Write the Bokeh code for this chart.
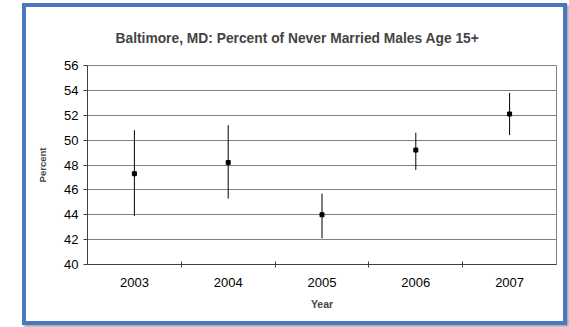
from bokeh.plotting import figure
from bokeh.layouts import column
from bokeh.models import FixedTicker, Range1d, ColumnDataSource
from bokeh.embed import file_html
from bokeh.resources import INLINE

years = [2003, 2004, 2005, 2006, 2007]
percent = [47.3, 48.2, 44.0, 49.2, 52.1]
lower = [43.9, 45.3, 42.1, 47.6, 50.4]
upper = [50.8, 51.2, 45.7, 50.6, 53.8]
y_ticks = [40, 42, 44, 46, 48, 50, 52, 54, 56]

src = ColumnDataSource(dict(x=years, y=percent, lo=lower, hi=upper))

FONT = "Liberation Sans"

p = figure(width=537, height=314, output_backend="svg", toolbar_location=None,
           x_range=Range1d(years[0] - 0.5, years[-1] + 0.5),
           y_range=Range1d(y_ticks[0], y_ticks[-1]),
           min_border_left=61, min_border_right=7, min_border_top=58, min_border_bottom=57,
           title="Baltimore, MD: Percent of Never Married Males Age 15+")

p.background_fill_color = "white"
p.border_fill_color = "white"
p.outline_line_color = "#808080"
p.outline_line_width = 1

p.title.text_font = FONT
p.title.text_font_size = "13.8px"
p.title.text_font_style = "bold"
p.title.align = "left"
p.title.offset = 28
p.title.standoff = 40

# x axis
bounds = [y + 0.5 for y in years[:-1]]
p.xaxis.ticker = FixedTicker(ticks=years, minor_ticks=bounds)
p.xaxis.major_tick_line_color = None
p.xaxis.minor_tick_in = 3
p.xaxis.minor_tick_out = 3
p.xaxis.minor_tick_line_color = "#404040"
p.xaxis.axis_line_color = "#404040"
p.xaxis.major_label_text_font = FONT
p.xaxis.major_label_text_font_size = "13px"
p.xaxis.major_label_text_color = "#000000"
p.xaxis.major_label_standoff = 7
p.xaxis.axis_label = "Year"
p.xaxis.axis_label_text_font = FONT
p.xaxis.axis_label_text_font_size = "10.5px"
p.xaxis.axis_label_text_font_style = "bold"
p.xaxis.axis_label_standoff = 8

# y axis
p.yaxis.ticker = FixedTicker(ticks=y_ticks, minor_ticks=[])
p.yaxis.major_tick_in = 0
p.yaxis.major_tick_out = 4
p.yaxis.major_tick_line_color = "#404040"
p.yaxis.axis_line_color = "#404040"
p.yaxis.major_label_text_font = FONT
p.yaxis.major_label_text_font_size = "13px"
p.yaxis.major_label_text_color = "#000000"
p.yaxis.major_label_standoff = 5
p.yaxis.axis_label = "Percent"
p.yaxis.axis_label_text_font = FONT
p.yaxis.axis_label_text_font_size = "9.5px"
p.yaxis.axis_label_text_font_style = "bold"
p.yaxis.axis_label_standoff = 13

p.xgrid.grid_line_color = None
p.ygrid.grid_line_color = "#7f7f7f"
p.ygrid.grid_line_width = 1

p.segment(x0="x", y0="lo", x1="x", y1="hi", source=src, line_color="black", line_width=1)
p.scatter(x="x", y="y", source=src, marker="square", size=4, fill_color="black", line_color="black")

layout = column(p, margin=(3, 0, 0, 22),
                styles={"border": "4px solid #4a78c0", "box-shadow": "2px 2px 2px #a8a8a8"})

open("out.html", "w").write(file_html(layout, INLINE))
